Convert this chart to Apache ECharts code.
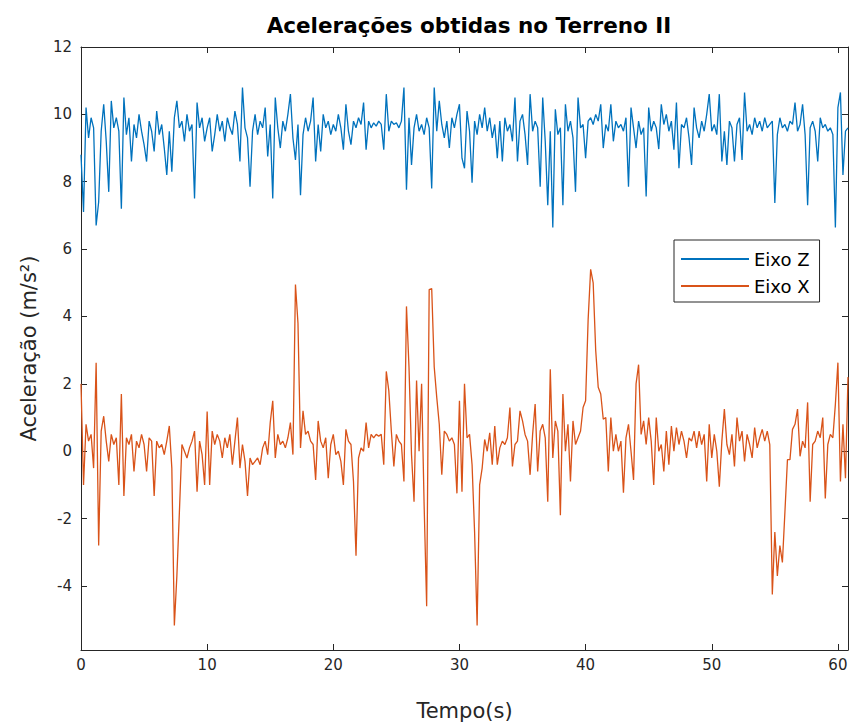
<!DOCTYPE html>
<html>
<head>
<meta charset="utf-8">
<script src="https://cdn.jsdelivr.net/npm/echarts@6/dist/echarts.min.js"></script>
<style>html,body{margin:0;padding:0;background:#fff;}#c{width:854px;height:726px;}</style>
</head>
<body>
<div id="c"></div>
<script>
const DT = 0.2;
const xTicks = [0, 10, 20, 30, 40, 50, 60];
const yTicks = [-4, -2, 0, 2, 4, 6, 8, 10, 12];
const seriesNames = ['Eixo Z', 'Eixo X'];

const eixoZ = [
 8.8, 7.1, 10.2, 9.3, 9.9,
 9.6, 6.7, 7.4, 9.5, 10.3,
 9.2, 7.7, 10.4, 9.6, 9.9,
 9.5, 7.2, 10.5, 9.4, 9.9,
 8.6, 9.7, 9.3, 10.0, 9.5,
 9.1, 8.6, 9.8, 9.5, 8.9,
 10.1, 9.4, 9.7, 9.0, 8.2,
 9.5, 8.3, 9.9, 10.4, 9.6,
 9.8, 9.2, 10.0, 9.5, 9.7,
 7.5, 10.35, 9.6, 9.9, 9.2,
 9.6, 9.9, 8.9, 9.4, 10.0,
 9.5, 9.8, 9.2, 9.9, 9.6,
 9.4, 10.1, 9.7, 8.6, 10.8,
 9.6, 9.3, 7.85, 9.5, 10.0,
 9.4, 9.8, 9.6, 10.2, 8.75,
 9.7, 7.5, 10.5, 9.6, 9.0,
 9.8, 9.5, 10.0, 10.6, 9.3,
 8.65, 9.7, 7.6, 9.4, 9.9,
 9.5, 9.8, 10.5, 8.6, 9.7,
 8.9, 10.0, 9.6, 9.8, 9.4,
 9.7, 9.5, 10.0, 9.6, 8.95,
 10.3, 9.5, 9.1, 9.8, 9.6,
 9.9, 9.7, 10.35, 8.95, 9.8,
 9.6, 9.75, 9.65, 9.8, 9.7,
 8.95, 10.6, 9.5, 9.8, 9.7,
 9.75, 9.6, 9.8, 10.8, 7.76,
 9.9, 8.5, 9.6, 10.0, 9.5,
 9.7, 9.4, 9.9, 9.6, 7.8,
 10.8, 9.5, 10.4, 9.7, 9.3,
 9.8, 9.0, 9.9, 9.6, 10.0,
 10.3, 8.7, 8.4, 10.1, 9.5,
 7.97, 9.8, 9.4, 10.0, 9.6,
 10.2, 9.5, 9.9, 9.3, 9.7,
 8.7, 9.8, 8.6, 9.9, 9.5,
 9.7, 9.2, 10.5, 8.6, 9.8,
 10.0, 9.4, 8.5, 10.6, 9.5,
 9.8, 9.6, 7.85, 10.5, 9.2,
 7.3, 9.5, 6.64, 10.15, 9.4,
 9.6, 7.3, 10.3, 9.5, 9.8,
 9.3, 7.7, 10.5, 9.6, 9.7,
 8.7, 9.8, 9.9, 9.7, 10.0,
 9.8, 10.3, 9.0, 9.7, 9.5,
 10.3, 9.2, 9.8, 9.6, 9.7,
 9.5, 9.9, 7.85, 10.2, 9.6,
 9.0, 9.8, 9.4, 9.6, 7.56,
 10.2, 9.5, 9.8, 9.6, 8.97,
 10.3, 9.7, 10.0, 9.5, 9.8,
 8.95, 10.35, 8.4, 9.7, 9.6,
 9.9, 9.3, 8.5, 10.2, 9.6,
 9.3, 9.8, 9.5, 10.0, 10.6,
 9.5, 9.7, 9.4, 10.6, 8.6,
 9.5, 8.5, 9.8, 9.6, 8.6,
 9.7, 9.9, 8.65, 10.65, 9.5,
 9.7, 9.4, 9.9, 9.6, 9.8,
 9.5, 9.9, 9.6, 9.7, 9.8,
 7.37, 9.4, 9.9, 9.6, 9.7,
 9.5, 9.8, 9.7, 10.35, 9.5,
 9.7, 10.3, 9.4, 7.3, 9.6,
 9.8, 9.5, 8.6, 9.9, 9.6,
 9.7, 9.5, 9.6, 9.4, 6.64,
 10.2, 10.65, 8.2, 9.5, 9.6
];

const eixoX = [
 2.0, -1.0, 0.8, 0.3, 0.5,
 -0.5, 2.63, -2.8, 0.6, 1.04,
 0.3, -0.3, 0.5, 0.2, 0.4,
 -1.0, 1.7, -1.33, 0.4, 0.2,
 0.5, -0.6, 0.3, 0.1, 0.5,
 0.2, -0.6, 0.4, 0.3, -1.33,
 0.3, 0.1, 0.2, -0.1, 0.3,
 0.75, -0.5, -5.17, -3.7, -1.8,
 0.2, 0.0, -0.2, 0.1, 0.3,
 0.6, -1.2, 0.3, -0.1, -1.0,
 1.18, -1.0, 0.6, 0.2, 0.5,
 0.3, -0.2, 0.4, 0.1, 0.5,
 -0.4, 0.3, 1.0, -0.5, 0.2,
 -0.3, -1.33, -0.2, -0.4, -0.3,
 -0.2, -0.4, 0.1, 0.3, -0.1,
 0.85, 1.5, -0.2, 0.5, 0.2,
 0.3, 0.1, 0.4, 0.85, -0.1,
 4.95, 3.8, 0.1, 1.2, 0.5,
 0.6, 0.3, 0.2, -0.85, 0.9,
 0.3, 0.1, 0.4, -0.8, 0.2,
 0.5, -0.1, 0.0, -0.3, -1.0,
 0.65, 0.3, 0.2, -0.9, -3.1,
 -0.2, 0.1, 0.0, 0.85, 0.1,
 0.5, 0.4, 0.5, 0.45, 0.5,
 -0.4, 2.37, 1.8, 0.6, -0.45,
 0.5, 0.3, 0.2, -0.9, 4.3,
 2.5, -0.1, -1.5, 2.1, 0.0,
 2.0, -1.6, -4.6, 4.8, 4.83,
 2.5, 1.6, 0.8, -0.7, 0.6,
 0.5, 0.3, 0.4, 0.2, -1.25,
 1.5, -1.2, 2.0, 0.4, 0.5,
 -0.4, -2.4, -5.17, -1.0, -0.5,
 0.35, 0.0, 0.55, -0.4, 0.75,
 -0.4, 0.1, 0.3, 0.2, 0.4,
 1.3, -0.45, 0.2, 0.3, 1.2,
 0.9, 0.5, 0.3, -0.7, 0.5,
 1.4, -0.6, 0.6, 0.8, 0.4,
 -1.5, 2.43, -0.2, 0.9, 0.6,
 -1.9, 1.7, 0.0, 0.8, -0.9,
 0.9, 0.2, 0.4, 0.6, 1.3,
 1.5, 3.9, 5.4, 5.0, 3.0,
 1.9, 1.7, 0.95, 1.0, -0.6,
 1.0, 0.0, 0.5, 0.0, 0.3,
 -1.23, 0.4, 0.8, 0.0, -0.85,
 2.0, 2.57, 0.5, 0.9, 0.2,
 1.0, 0.3, -1.0, 1.0, 0.0,
 0.2, -0.6, 0.6, -0.4, 0.75,
 0.0, 0.7, 0.2, 0.6, 0.3,
 -0.2, 0.4, 0.3, 0.6, 0.1,
 0.6, 0.2, 0.5, -0.9, 0.8,
 -0.2, 0.5, 0.0, -1.05, 0.3,
 1.25, 0.2, -0.1, 0.5, -0.45,
 1.0, 0.3, 0.6, -0.3, 0.5,
 0.2, -0.2, 0.7, 0.1, 0.4,
 0.65, 0.3, 0.6, 0.2, -4.25,
 -2.4, -3.7, -2.8, -3.3, -1.8,
 -0.25, -0.25, 0.65, 0.8, 1.25,
 -0.15, 0.3, 0.1, 1.45, -1.5,
 0.2, 0.3, 0.6, 0.4, 1.0,
 -1.4, 0.2, 0.5, 0.4, 1.4,
 2.63, -0.9, 0.8, -0.8, 2.2
];

function pairs(vals) {
  return vals.map((v, i) => [Math.round(i * DT * 100) / 100, v]);
}

const AX = '#262626';
const FONT = 'DejaVu Sans';
const chart = echarts.init(document.getElementById('c'), null, { renderer: 'svg' });

function baseX(pos, show) {
  return {
    type: 'value', position: pos, min: 0, max: 60.8,
    splitLine: { show: false },
    axisLine: { show: true, onZero: false, lineStyle: { color: AX, width: 1 } },
    axisTick: { show: true, inside: true, length: 6, customValues: xTicks, lineStyle: { color: AX } },
    axisLabel: { show: show, customValues: xTicks, color: AX, fontFamily: FONT, fontSize: 15, margin: 7 }
  };
}
function baseY(pos, show) {
  return {
    type: 'value', position: pos, min: -5.9, max: 12,
    splitLine: { show: false },
    axisLine: { show: true, onZero: false, lineStyle: { color: AX, width: 1 } },
    axisTick: { show: true, inside: true, length: 6, customValues: yTicks, lineStyle: { color: AX } },
    axisLabel: { show: show, customValues: yTicks, color: AX, fontFamily: FONT, fontSize: 15, margin: 9 }
  };
}

const xMain = Object.assign(baseX('bottom', true), {
  name: 'Tempo(s)', nameLocation: 'middle', nameGap: 50,
  nameTextStyle: { color: AX, fontFamily: FONT, fontSize: 21 }
});
const yMain = Object.assign(baseY('left', true), {
  name: 'Aceleração (m/s²)', nameLocation: 'middle', nameGap: 42,
  nameTextStyle: { color: AX, fontFamily: FONT, fontSize: 21 }
});

chart.setOption({
  animation: false,
  backgroundColor: '#ffffff',
  title: {
    text: 'Acelerações obtidas no Terreno II',
    left: 464, top: 9, textAlign: 'center',
    textStyle: { color: '#000', fontFamily: FONT, fontSize: 21.5, fontWeight: 'bold' }
  },
  grid: { left: 81, right: 6, top: 47, bottom: 75, containLabel: false },
  legend: {
    data: seriesNames,
    orient: 'vertical', left: 674, top: 240,
    icon: 'rect',
    itemWidth: 68, itemHeight: 2, itemGap: 9,
    padding: [10, 10, 7, 7],
    borderColor: AX, borderWidth: 1, backgroundColor: '#fff',
    textStyle: { color: '#000', fontFamily: FONT, fontSize: 18 }
  },
  xAxis: [xMain, baseX('top', false)],
  yAxis: [yMain, baseY('right', false)],
  series: [
    { name: seriesNames[0], type: 'line', data: pairs(eixoZ), symbol: 'none', showSymbol: false,
      lineStyle: { color: '#0072BD', width: 1.3 }, itemStyle: { color: '#0072BD' } },
    { name: seriesNames[1], type: 'line', data: pairs(eixoX), symbol: 'none', showSymbol: false,
      lineStyle: { color: '#D95319', width: 1.3 }, itemStyle: { color: '#D95319' } }
  ]
});
</script>
</body>
</html>
